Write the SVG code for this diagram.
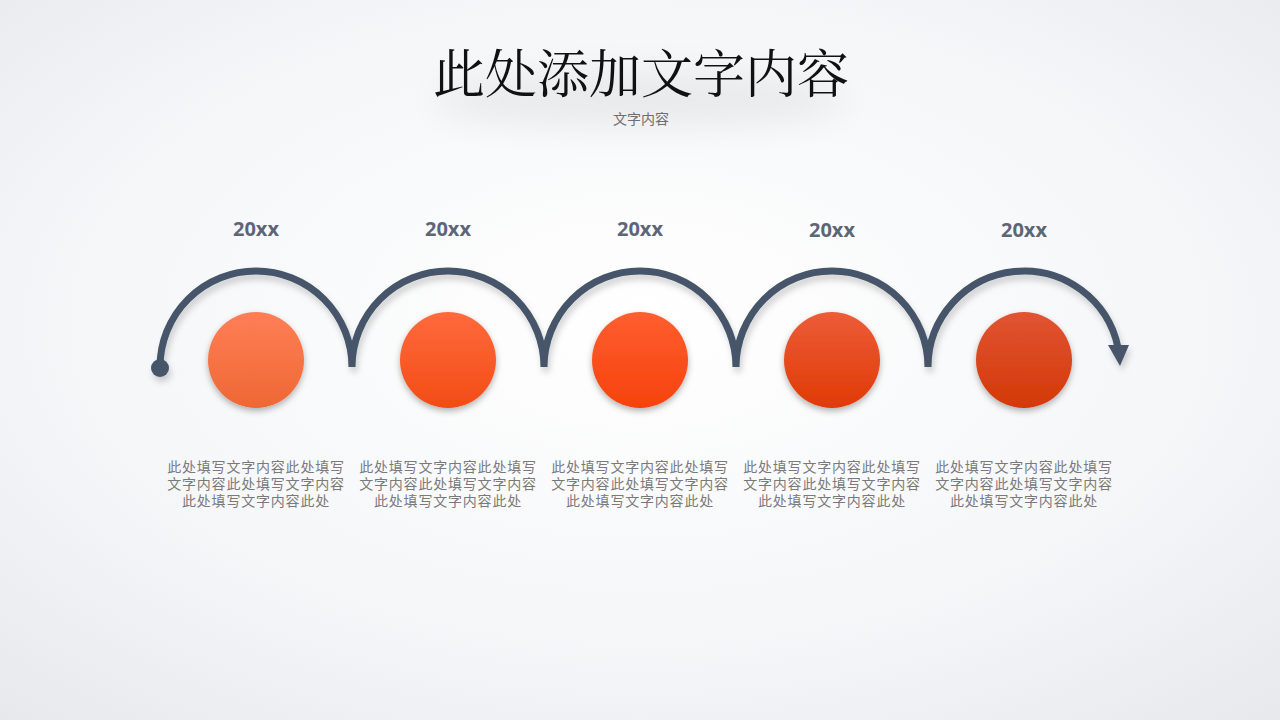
<svg xmlns="http://www.w3.org/2000/svg" width="1280" height="720" viewBox="0 0 1280 720">
<defs>
<radialGradient id="bg" cx="50%" cy="45%" r="75%">
<stop offset="0" stop-color="#FFFFFF"/>
<stop offset="0.6" stop-color="#F5F6F8"/>
<stop offset="1" stop-color="#E6E8EC"/>
</radialGradient>
<linearGradient id="g1" x1="0" y1="0" x2="0" y2="1"><stop offset="0" stop-color="#FF7E56"/><stop offset="1" stop-color="#EE6834"/></linearGradient>
<linearGradient id="g2" x1="0" y1="0" x2="0" y2="1"><stop offset="0" stop-color="#FF6A3C"/><stop offset="1" stop-color="#F24C16"/></linearGradient>
<linearGradient id="g3" x1="0" y1="0" x2="0" y2="1"><stop offset="0" stop-color="#FF5E30"/><stop offset="1" stop-color="#F5420C"/></linearGradient>
<linearGradient id="g4" x1="0" y1="0" x2="0" y2="1"><stop offset="0" stop-color="#EC5C38"/><stop offset="1" stop-color="#E03A06"/></linearGradient>
<linearGradient id="g5" x1="0" y1="0" x2="0" y2="1"><stop offset="0" stop-color="#E05434"/><stop offset="1" stop-color="#D43806"/></linearGradient>
<filter id="sh" x="-30%" y="-30%" width="160%" height="170%">
<feDropShadow dx="0" dy="3" stdDeviation="3" flood-color="#000" flood-opacity="0.3"/>
</filter>
<filter id="lsh" x="-10%" y="-10%" width="120%" height="130%">
<feDropShadow dx="2" dy="5" stdDeviation="3" flood-color="#000" flood-opacity="0.18"/>
</filter>
<filter id="blur" x="-50%" y="-50%" width="200%" height="200%">
<feGaussianBlur stdDeviation="18"/>
</filter>
<style>
.arc{fill:none;stroke:#46546A;stroke-width:7;stroke-linecap:round}
.yr{font-family:"Open Sans","Liberation Sans",sans-serif;font-weight:bold;font-size:20px;fill:#5D6677;text-anchor:middle}
.body{font-family:"Noto Sans CJK SC",sans-serif;font-size:14px;letter-spacing:0.8px;fill:#7A7A7A;text-anchor:middle}
.title{font-family:"Noto Serif CJK SC","Noto Sans CJK SC",serif;font-size:52px;fill:#111;text-anchor:middle}
.sub{font-family:"Noto Sans CJK SC",sans-serif;font-size:14px;fill:#6E6E6E;text-anchor:middle}
</style>
</defs>
<rect width="1280" height="720" fill="url(#bg)"/>
<g id="title">
<ellipse cx="640" cy="100" rx="210" ry="28" fill="#000" opacity="0.06" filter="url(#blur)"/>
<text class="title" x="641" y="93">此处添加文字内容</text>
<text class="sub" x="641" y="124">文字内容</text>
</g>
<g id="connectors" filter="url(#lsh)">
<path class="arc" d="M160 367 A96 96 0 0 1 352 367 A96 96 0 0 1 544 367 A96 96 0 0 1 736 367 A96 96 0 0 1 928 367 A96 96 0 0 1 1118.1 348"/>
<circle cx="160" cy="368" r="9" fill="#46546A"/>
<polygon points="1108,345 1129,345 1120,366" fill="#46546A"/>
</g>
<g id="node1">
<text class="yr" x="256" y="236">20xx</text>
<circle cx="256" cy="360" r="48" fill="url(#g1)" filter="url(#sh)"/>
<text class="body"><tspan x="256" y="472">此处填写文字内容此处填写</tspan><tspan x="256" y="489">文字内容此处填写文字内容</tspan><tspan x="256" y="506">此处填写文字内容此处</tspan></text>
</g>
<g id="node2">
<text class="yr" x="448" y="236">20xx</text>
<circle cx="448" cy="360" r="48" fill="url(#g2)" filter="url(#sh)"/>
<text class="body"><tspan x="448" y="472">此处填写文字内容此处填写</tspan><tspan x="448" y="489">文字内容此处填写文字内容</tspan><tspan x="448" y="506">此处填写文字内容此处</tspan></text>
</g>
<g id="node3">
<text class="yr" x="640" y="236">20xx</text>
<circle cx="640" cy="360" r="48" fill="url(#g3)" filter="url(#sh)"/>
<text class="body"><tspan x="640" y="472">此处填写文字内容此处填写</tspan><tspan x="640" y="489">文字内容此处填写文字内容</tspan><tspan x="640" y="506">此处填写文字内容此处</tspan></text>
</g>
<g id="node4">
<text class="yr" x="832" y="237">20xx</text>
<circle cx="832" cy="360" r="48" fill="url(#g4)" filter="url(#sh)"/>
<text class="body"><tspan x="832" y="472">此处填写文字内容此处填写</tspan><tspan x="832" y="489">文字内容此处填写文字内容</tspan><tspan x="832" y="506">此处填写文字内容此处</tspan></text>
</g>
<g id="node5">
<text class="yr" x="1024" y="237">20xx</text>
<circle cx="1024" cy="360" r="48" fill="url(#g5)" filter="url(#sh)"/>
<text class="body"><tspan x="1024" y="472">此处填写文字内容此处填写</tspan><tspan x="1024" y="489">文字内容此处填写文字内容</tspan><tspan x="1024" y="506">此处填写文字内容此处</tspan></text>
</g>
</svg>
